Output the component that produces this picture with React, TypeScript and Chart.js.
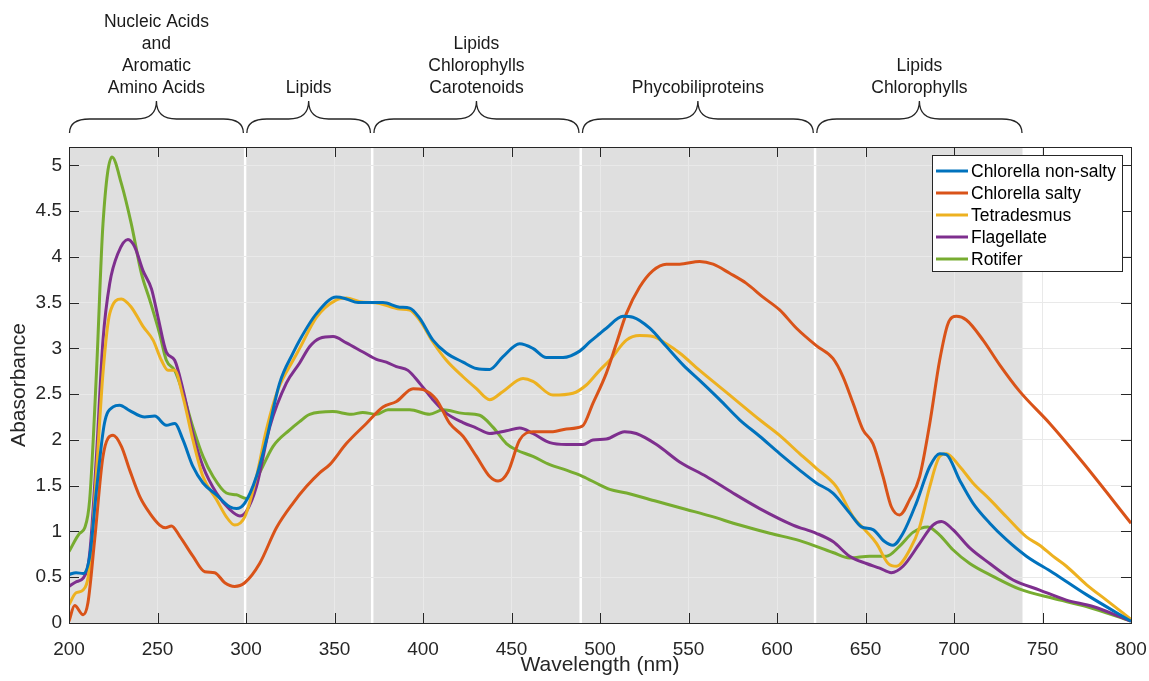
import React, { useEffect, useRef } from 'react';
import { Chart, registerables } from 'chart.js';

Chart.register(...registerables);

const FONT = '"Liberation Sans", Arial, Helvetica, sans-serif';

// Axis ticks
const xTickValues = [200, 250, 300, 350, 400, 450, 500, 550, 600, 650, 700, 750, 800];
const yTickValues = [0, 0.5, 1, 1.5, 2, 2.5, 3, 3.5, 4, 4.5, 5];

// Shaded spectral regions (nm) and their labels
const regionStart = [200, 300.2, 372, 489.8, 622.2];
const regionEnd = [298.8, 370.6, 488.4, 620.8, 738.7];
const regionLabels = [
  ['Nucleic Acids', 'and', 'Aromatic', 'Amino Acids'],
  ['Lipids'],
  ['Lipids', 'Chlorophylls', 'Carotenoids'],
  ['Phycobiliproteins'],
  ['Lipids', 'Chlorophylls'],
];

// Series names and colours
const seriesNames = ['Chlorella non-salty', 'Chlorella salty', 'Tetradesmus', 'Flagellate', 'Rotifer'];
const seriesColors = ['#0072BD', '#D95319', '#EDB120', '#7E2F8E', '#77AC30'];

// Chlorella non-salty
const nonSaltyNm = [200, 204, 208, 211.7, 215.5, 220, 224.9, 228.6, 234.3, 242.8, 248.4, 255, 259.7, 264.4, 270, 275.7, 283.3, 290.8, 294.6, 299.3, 305.9, 311.5, 319, 326.6, 330.3, 339.8, 351.1, 356.7, 363.3, 377.4, 386.8, 392.5, 398.1, 405.6, 413.2, 422.6, 430.2, 437.7, 445.2, 454.6, 462.1, 469.7, 479.1, 488.5, 494.2, 499.8, 503.6, 513, 518.6, 528.1, 537.5, 546.9, 556.3, 567.6, 578.9, 590.2, 601.5, 612.8, 622.2, 631.6, 641.1, 647.7, 654.2, 660.8, 665.5, 671.2, 678.7, 686.3, 691.9, 695.7, 703.2, 710.7, 720.2, 729.6, 740.9, 755.9, 774.8, 800];
const nonSaltyAbs = [0.53, 0.55, 0.54, 0.73, 1.45, 2.18, 2.36, 2.38, 2.32, 2.25, 2.26, 2.16, 2.18, 2.0, 1.71, 1.53, 1.4, 1.27, 1.25, 1.31, 1.6, 2.0, 2.62, 2.95, 3.09, 3.38, 3.56, 3.54, 3.5, 3.5, 3.45, 3.44, 3.33, 3.09, 2.95, 2.85, 2.78, 2.77, 2.91, 3.05, 3.0, 2.9, 2.9, 2.97, 3.07, 3.16, 3.22, 3.35, 3.34, 3.22, 3.02, 2.82, 2.65, 2.44, 2.22, 2.04, 1.85, 1.67, 1.53, 1.42, 1.2, 1.05, 1.02, 0.89, 0.85, 0.98, 1.31, 1.71, 1.85, 1.84, 1.56, 1.31, 1.09, 0.91, 0.73, 0.55, 0.31, 0.02];

// Chlorella salty
const saltyNm = [200, 203.2, 208, 210.7, 214.5, 219.2, 224.9, 229.6, 234.3, 240, 245.6, 251.2, 254.5, 257.9, 262.5, 270, 276.7, 282.3, 288, 293.6, 299.3, 307.7, 317.2, 326.6, 334.1, 341.6, 347.3, 356.7, 368, 377.4, 385, 394.4, 400, 407.6, 415.1, 422.6, 430.2, 437.7, 442.4, 448, 454.6, 462.1, 473.4, 481, 490, 496, 503.6, 509.2, 514.9, 522.4, 529.9, 537.5, 545, 556.3, 563.9, 573.3, 582.7, 592.1, 601.5, 611, 622.2, 631.6, 637.3, 643, 648.6, 654.2, 659.9, 664.6, 669.3, 675, 680.6, 686.3, 691.9, 696.6, 701.4, 707, 716.4, 725.8, 737.1, 754.1, 772.9, 800];
const saltyAbs = [0.02, 0.19, 0.09, 0.22, 0.91, 1.82, 2.05, 1.93, 1.67, 1.38, 1.2, 1.07, 1.04, 1.06, 0.95, 0.73, 0.56, 0.55, 0.44, 0.4, 0.44, 0.65, 1.04, 1.31, 1.49, 1.64, 1.73, 1.96, 2.18, 2.36, 2.42, 2.56, 2.55, 2.44, 2.18, 2.04, 1.82, 1.6, 1.55, 1.65, 2.0, 2.09, 2.09, 2.12, 2.15, 2.4, 2.73, 3.05, 3.38, 3.67, 3.85, 3.92, 3.92, 3.95, 3.92, 3.82, 3.71, 3.56, 3.42, 3.22, 3.03, 2.89, 2.69, 2.4, 2.11, 1.96, 1.6, 1.27, 1.18, 1.35, 1.6, 2.18, 2.87, 3.27, 3.35, 3.31, 3.09, 2.82, 2.53, 2.18, 1.75, 1.09];

// Tetradesmus
const tetraNm = [200, 204, 208, 211.7, 215.5, 219.2, 223, 229.6, 235.2, 241.8, 247.5, 252.2, 255.9, 259.7, 264.4, 270, 275.7, 283.3, 288.9, 293.6, 299.3, 305.9, 311.5, 318.1, 326.6, 330.3, 339.8, 351.1, 356.7, 364.2, 375.5, 386.8, 392.5, 398.1, 405.6, 413.2, 422.6, 430.2, 437.7, 445.2, 456.5, 462.1, 473.4, 484.7, 492.3, 499.8, 505.5, 514.9, 522.4, 529.9, 537.5, 545, 556.3, 567.6, 578.9, 590.2, 601.5, 612.8, 622.2, 633.5, 643, 650.5, 656.2, 662.8, 667.5, 675, 680.6, 686.3, 691.9, 695.7, 703.2, 710.7, 720.2, 729.6, 740.9, 748.4, 755.9, 763.5, 774.8, 786.1, 800];
const tetraAbs = [0.2, 0.33, 0.36, 0.62, 1.64, 2.73, 3.38, 3.54, 3.45, 3.24, 3.09, 2.87, 2.76, 2.76, 2.47, 2.0, 1.6, 1.35, 1.16, 1.07, 1.16, 1.6, 2.11, 2.55, 2.87, 3.0, 3.34, 3.53, 3.55, 3.51, 3.49, 3.43, 3.42, 3.31, 3.07, 2.87, 2.69, 2.56, 2.44, 2.53, 2.67, 2.64, 2.49, 2.51, 2.6, 2.76, 2.87, 3.09, 3.14, 3.13, 3.05, 2.95, 2.76, 2.58, 2.4, 2.22, 2.05, 1.85, 1.69, 1.49, 1.16, 1.0, 0.87, 0.65, 0.62, 0.8, 1.05, 1.49, 1.82, 1.85, 1.71, 1.53, 1.35, 1.16, 0.94, 0.85, 0.73, 0.62, 0.42, 0.25, 0.04];

// Flagellate
const flagNm = [200, 204, 208, 211.7, 215.5, 219.2, 223, 227.7, 233.3, 237.1, 241.8, 246.6, 250.3, 255, 259.7, 264.4, 270, 275.7, 283.3, 290.8, 296.5, 300.2, 305.9, 313.4, 322.8, 330.3, 336, 341.6, 349.2, 356.7, 366.1, 373.7, 379.3, 385, 391.5, 398.1, 405.6, 413.2, 422.6, 430.2, 437.7, 447.1, 454.6, 462.1, 471.6, 481, 490.4, 496, 503.6, 513.9, 520.5, 531.9, 545, 560.1, 575.1, 590.2, 609, 622.2, 631.6, 641, 650.5, 658, 664.6, 671.2, 680.6, 688.1, 692.9, 699.4, 708.9, 720.2, 733.4, 748.4, 763.5, 778.5, 800];
const flagAbs = [0.4, 0.45, 0.49, 0.76, 1.82, 3.09, 3.71, 4.04, 4.19, 4.11, 3.85, 3.65, 3.34, 2.96, 2.87, 2.55, 2.07, 1.71, 1.42, 1.24, 1.17, 1.22, 1.49, 2.14, 2.62, 2.84, 3.02, 3.11, 3.13, 3.06, 2.96, 2.88, 2.85, 2.8, 2.76, 2.62, 2.44, 2.29, 2.19, 2.13, 2.07, 2.1, 2.13, 2.07, 1.97, 1.95, 1.95, 2.0, 2.01, 2.09, 2.07, 1.95, 1.76, 1.6, 1.42, 1.25, 1.07, 0.98, 0.89, 0.73, 0.65, 0.6, 0.55, 0.62, 0.87, 1.07, 1.11, 1.02, 0.82, 0.65, 0.47, 0.36, 0.25, 0.18, 0.02];

// Rotifer
const rotiferNm = [200, 206, 208.9, 211.7, 215.5, 219.2, 224.3, 229.6, 235.2, 240.9, 245.6, 251.2, 255, 259.7, 264.4, 270, 275.7, 281.4, 288.9, 294.6, 300.2, 307.7, 315.3, 324.7, 330.3, 336, 349, 359.5, 366, 373.7, 380.2, 392.5, 403.8, 411.3, 422.6, 432, 439.5, 447.1, 452.8, 462.1, 471.6, 481, 490.4, 499.8, 505.5, 515, 531.9, 548.8, 562, 578.9, 595.9, 612.8, 631.6, 641, 652.4, 661.8, 669.3, 676.8, 685.3, 691.9, 699.4, 708.9, 722, 737.1, 755.9, 774.8, 800];
const rotiferAbs = [0.78, 0.98, 1.04, 1.35, 2.73, 4.36, 5.09, 4.8, 4.36, 3.82, 3.53, 3.16, 2.87, 2.76, 2.51, 2.14, 1.82, 1.6, 1.42, 1.4, 1.36, 1.64, 1.93, 2.11, 2.2, 2.28, 2.31, 2.28, 2.3, 2.28, 2.33, 2.33, 2.28, 2.33, 2.29, 2.27, 2.14, 1.96, 1.89, 1.82, 1.73, 1.67, 1.6, 1.51, 1.46, 1.42, 1.33, 1.24, 1.17, 1.07, 0.98, 0.9, 0.77, 0.71, 0.73, 0.73, 0.84, 0.99, 1.05, 0.96, 0.8, 0.65, 0.51, 0.37, 0.27, 0.18, 0.02];

const seriesNm = [nonSaltyNm, saltyNm, tetraNm, flagNm, rotiferNm];
const seriesAbs = [nonSaltyAbs, saltyAbs, tetraAbs, flagAbs, rotiferAbs];

const AXIS_COLOR = '#262626';

function drawBrace(ctx: CanvasRenderingContext2D, x0: number, x1: number, yb: number, ym: number, yt: number) {
  const xc = (x0 + x1) / 2;
  const d = Math.min(20, (xc - x0) / 3);
  ctx.beginPath();
  ctx.moveTo(x0, yb);
  ctx.quadraticCurveTo(x0, ym, x0 + d, ym);
  ctx.lineTo(xc - d, ym);
  ctx.quadraticCurveTo(xc, ym, xc, yt);
  ctx.quadraticCurveTo(xc, ym, xc + d, ym);
  ctx.lineTo(x1 - d, ym);
  ctx.quadraticCurveTo(x1, ym, x1, yb);
  ctx.stroke();
}

const decorPlugin = {
  id: 'decor',
  beforeDraw(chart: any) {
    const { ctx, chartArea, scales } = chart;
    const x = scales.x;
    ctx.save();
    ctx.fillStyle = '#dfdfdf';
    regionStart.forEach((s, i) => {
      const x0 = x.getPixelForValue(s);
      const x1 = x.getPixelForValue(regionEnd[i]);
      ctx.fillRect(x0, chartArea.top, x1 - x0, chartArea.bottom - chartArea.top);
    });
    ctx.restore();
  },
  afterDraw(chart: any) {
    const { ctx, chartArea, scales } = chart;
    const x = scales.x;
    const y = scales.y;
    const { left, right, top, bottom } = chartArea;
    ctx.save();
    // box
    ctx.strokeStyle = AXIS_COLOR;
    ctx.lineWidth = 1;
    ctx.strokeRect(Math.round(left) + 0.5, Math.round(top) + 0.5, Math.round(right - left), Math.round(bottom - top));
    // inward ticks
    const tl = 10;
    ctx.beginPath();
    xTickValues.forEach((v) => {
      const px = Math.round(x.getPixelForValue(v)) + 0.5;
      ctx.moveTo(px, bottom);
      ctx.lineTo(px, bottom - tl);
      ctx.moveTo(px, top);
      ctx.lineTo(px, top + tl);
    });
    yTickValues.forEach((v) => {
      const py = Math.round(y.getPixelForValue(v)) + 0.5;
      ctx.moveTo(left, py);
      ctx.lineTo(left + tl, py);
      ctx.moveTo(right, py);
      ctx.lineTo(right - tl, py);
    });
    ctx.stroke();

    // braces and labels
    ctx.strokeStyle = '#262626';
    ctx.lineWidth = 1.3;
    ctx.fillStyle = '#1a1a1a';
    ctx.font = `17.5px ${FONT}`;
    ctx.textAlign = 'center';
    ctx.textBaseline = 'alphabetic';
    regionStart.forEach((s, i) => {
      const x0 = x.getPixelForValue(s) + 0.5;
      const x1 = x.getPixelForValue(regionEnd[i]) - 0.5;
      drawBrace(ctx, x0, x1, 133, 119, 101);
      const xc = (x0 + x1) / 2;
      const lines = regionLabels[i];
      lines.forEach((t, j) => {
        const base = 93 - (lines.length - 1 - j) * 22;
        ctx.fillText(t, xc, base);
      });
    });

    // axis titles
    ctx.fillStyle = AXIS_COLOR;
    ctx.font = `21px ${FONT}`;
    ctx.textBaseline = 'middle';
    ctx.fillText('Wavelength (nm)', (left + right) / 2, 665);
    ctx.save();
    ctx.translate(19, (top + bottom) / 2);
    ctx.rotate(-Math.PI / 2);
    ctx.fillText('Abasorbance', 0, 0);
    ctx.restore();

    // legend
    const lx0 = 932.5, lx1 = 1122.5, ly0 = 155.5, ly1 = 271.5;
    ctx.fillStyle = '#ffffff';
    ctx.fillRect(lx0, ly0, lx1 - lx0, ly1 - ly0);
    ctx.strokeStyle = AXIS_COLOR;
    ctx.lineWidth = 1;
    ctx.strokeRect(lx0, ly0, lx1 - lx0, ly1 - ly0);
    ctx.font = `17.5px ${FONT}`;
    ctx.textAlign = 'left';
    ctx.textBaseline = 'middle';
    seriesNames.forEach((name, i) => {
      const ry = 171 + i * 22;
      ctx.strokeStyle = seriesColors[i];
      ctx.lineWidth = 3;
      ctx.beginPath();
      ctx.moveTo(936, ry);
      ctx.lineTo(968, ry);
      ctx.stroke();
      ctx.fillStyle = '#000000';
      ctx.fillText(name, 971, ry + 1);
    });
    ctx.restore();
  },
};

export default function App() {
  const canvasRef = useRef<HTMLCanvasElement | null>(null);

  useEffect(() => {
    const canvas = canvasRef.current;
    if (!canvas) return;
    const datasets = seriesNames.map((name, i) => ({
      label: name,
      data: seriesNm[i].map((nm, k) => ({ x: nm, y: seriesAbs[i][k] })),
      borderColor: seriesColors[i],
      backgroundColor: seriesColors[i],
      borderWidth: 3,
      pointRadius: 0,
      cubicInterpolationMode: 'monotone' as const,
      fill: false,
    }));
    const chart = new Chart(canvas, {
      type: 'line',
      data: { datasets },
      options: {
        animation: false,
        responsive: false,
        devicePixelRatio: 1,
        layout: { padding: { top: 147, right: 18, left: 0, bottom: 0 } },
        plugins: { legend: { display: false }, tooltip: { enabled: false } },
        scales: {
          x: {
            type: 'linear',
            min: 200,
            max: 800,
            afterBuildTicks: (scale: any) => {
              scale.ticks = xTickValues.map((v) => ({ value: v }));
            },
            afterFit: (scale: any) => {
              scale.height = 58;
              scale.paddingLeft = 0;
              scale.paddingRight = 0;
            },
            ticks: {
              color: AXIS_COLOR,
              font: { family: FONT, size: 19 },
              padding: 15,
              maxRotation: 0,
              autoSkip: false,
              callback: (v: any) => String(v),
            },
            grid: { color: '#e9e9e9', drawTicks: false, lineWidth: 1 },
            border: { display: false },
          },
          y: {
            type: 'linear',
            min: 0,
            max: 5.2,
            afterBuildTicks: (scale: any) => {
              scale.ticks = yTickValues.map((v) => ({ value: v }));
            },
            afterFit: (scale: any) => {
              scale.width = 69;
              scale.paddingTop = 0;
              scale.paddingBottom = 0;
            },
            ticks: {
              color: AXIS_COLOR,
              font: { family: FONT, size: 19 },
              padding: 7,
              autoSkip: false,
              callback: (v: any) => String(v),
            },
            grid: { color: '#e9e9e9', drawTicks: false, lineWidth: 1 },
            border: { display: false },
          },
        },
      },
      plugins: [decorPlugin],
    });
    return () => chart.destroy();
  }, []);

  return (
    <div style={{ position: 'fixed', left: 0, top: 0, width: 1149, height: 681, background: '#ffffff' }}>
      <canvas ref={canvasRef} width={1149} height={681} style={{ display: 'block', width: 1149, height: 681 }} />
    </div>
  );
}
